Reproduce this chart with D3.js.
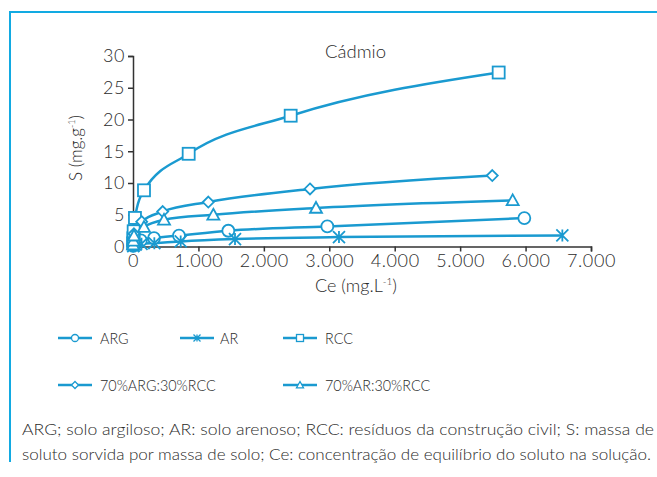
<!DOCTYPE html>
<html>
<head>
<meta charset="utf-8">
<script src="https://cdn.jsdelivr.net/npm/d3@7/dist/d3.min.js"></script>
<style>
  html, body { margin: 0; padding: 0; background: #fff; }
  svg { display: block; }
  text { font-family: Lato, "Open Sans", sans-serif; font-weight: 300; fill: #2b2b2b; }
</style>
</head>
<body>
<svg id="chart" width="657" height="477"></svg>
<script>
// Sorption isotherms for cadmium (S vs Ce) for five substrates
const seriesNames = ["ARG", "AR", "RCC", "70%ARG:30%RCC", "70%AR:30%RCC"];
const seriesSymbols = ["circle", "asterisk", "square", "diamond", "triangle"];

const ceARG = [3, 10, 40, 120, 321, 703, 1457, 2970, 5981];
const sARG  = [0.1, 0.3, 0.6, 0.95, 1.33, 1.72, 2.48, 3.16, 4.48];

const ceAR = [3, 10, 40, 130, 326, 729, 1559, 3148, 6562];
const sAR  = [0.05, 0.15, 0.3, 0.42, 0.53, 0.8, 1.17, 1.48, 1.74];

const ceRCC = [2, 5, 10, 30, 168, 851, 2410, 5589];
const sRCC  = [0.5, 1.3, 2.4, 4.5, 8.85, 14.6, 20.6, 27.4];

const ceMixARG = [2, 6, 15, 133, 454, 1151, 2705, 5491];
const sMixARG  = [0.4, 1.1, 2.0, 3.9, 5.5, 7.0, 9.07, 11.17];

const ceMixAR = [2, 6, 15, 168, 474, 1228, 2797, 5803];
const sMixAR  = [0.3, 0.9, 1.7, 3.06, 4.2, 5.0, 6.07, 7.27];

const xTicks = [0, 1000, 2000, 3000, 4000, 5000, 6000, 7000];
const yTicks = [0, 5, 10, 15, 20, 25, 30];

const footnote = [
  "ARG; solo argiloso; AR: solo arenoso; RCC: resíduos da construção civil; S: massa de",
  "soluto sorvida por massa de solo; Ce: concentração de equilíbrio do soluto na solução."
];

const series = [
  { x: ceARG, y: sARG },
  { x: ceAR, y: sAR },
  { x: ceRCC, y: sRCC },
  { x: ceMixARG, y: sMixARG },
  { x: ceMixAR, y: sMixAR }
].map((s, i) => ({
  name: seriesNames[i],
  symbol: seriesSymbols[i],
  points: s.x.map((v, j) => ({ ce: v, s: s.y[j] }))
}));

const blue = "#1a9ad0";
const frameBlue = "#12aae2";
const axisColor = "#333";

const svg = d3.select("#chart");

// panel frame: top and left rules
svg.append("line").attr("x1", 10).attr("x2", 657).attr("y1", 12).attr("y2", 12)
  .attr("stroke", frameBlue).attr("stroke-width", 2);
svg.append("line").attr("x1", 10).attr("x2", 10).attr("y1", 11).attr("y2", 462)
  .attr("stroke", frameBlue).attr("stroke-width", 2);

const x = d3.scaleLinear().domain([0, 7000]).range([133, 591]);
const y = d3.scaleLinear().domain([0, 30]).range([246.5, 56]);

const fmt = d3.formatLocale({ decimal: ",", thousands: ".", grouping: [3], currency: ["R$", ""] }).format(",d");

// axes
const gx = svg.append("g").attr("transform", `translate(0,${y(0)})`)
  .call(d3.axisBottom(x).tickValues(xTicks).tickFormat(fmt).tickSizeOuter(0).tickSize(5).tickPadding(3));
const gy = svg.append("g").attr("transform", `translate(${x(0)},0)`)
  .call(d3.axisLeft(y).tickValues(yTicks).tickSizeOuter(0).tickSize(5).tickPadding(3));
[gx, gy].forEach(g => {
  g.select(".domain").attr("stroke", axisColor).attr("stroke-width", 1.5);
  g.selectAll(".tick line").attr("stroke", axisColor).attr("stroke-width", 1.5);
  g.selectAll(".tick text").attr("font-size", 18).style("font-family", "Lato, sans-serif")
    .style("font-weight", 300).style("letter-spacing", "0.6px").attr("fill", "#2b2b2b");
});

// symbol drawing
function drawSymbol(g, type, cx, cy, sz, sw) {
  const h = sz / 2;
  const common = el => el.attr("fill", "#fff").attr("stroke", blue).attr("stroke-width", sw);
  if (type === "circle") {
    common(g.append("circle").attr("cx", cx).attr("cy", cy).attr("r", h));
  } else if (type === "square") {
    common(g.append("rect").attr("x", cx - h).attr("y", cy - h).attr("width", sz).attr("height", sz));
  } else if (type === "diamond") {
    common(g.append("path").attr("d", `M${cx},${cy - h}L${cx + h},${cy}L${cx},${cy + h}L${cx - h},${cy}Z`));
  } else if (type === "triangle") {
    common(g.append("path").attr("d", `M${cx},${cy - h}L${cx + h},${cy + h * 0.8}L${cx - h},${cy + h * 0.8}Z`));
  } else if (type === "asterisk") {
    g.append("path")
      .attr("d", `M${cx - h},${cy - h}L${cx + h},${cy + h}M${cx - h},${cy + h}L${cx + h},${cy - h}M${cx},${cy - h}L${cx},${cy + h}`)
      .attr("fill", "none").attr("stroke", blue).attr("stroke-width", sw);
  }
}

const line = d3.line().x(d => x(d.ce)).y(d => y(d.s)).curve(d3.curveMonotoneX);

const plot = svg.append("g");
series.forEach(s => {
  plot.append("path")
    .datum([{ ce: 0, s: 0 }].concat(s.points))
    .attr("d", line)
    .attr("fill", "none").attr("stroke", blue).attr("stroke-width", 2.5);
});
series.forEach(s => {
  const g = plot.append("g");
  s.points.forEach(p => drawSymbol(g, s.symbol, x(p.ce), y(p.s), s.symbol === "diamond" ? 11 : 12, 1.8));
});

// title and axis titles
svg.append("text").attr("x", 325).attr("y", 58).attr("font-size", 18.5).text("Cádmio");

const yl = svg.append("text").attr("transform", "translate(82,148) rotate(-90)")
  .attr("text-anchor", "middle").attr("font-size", 17);
yl.append("tspan").text("S (mg.g");
yl.append("tspan").attr("font-size", 9).attr("dy", -7).text("-1");
yl.append("tspan").attr("dy", 7).text(")");

const xl = svg.append("text").attr("x", 356).attr("y", 292)
  .attr("text-anchor", "middle").attr("font-size", 18);
xl.append("tspan").text("Ce (mg.L");
xl.append("tspan").attr("font-size", 10).attr("dy", -7).text("-1");
xl.append("tspan").attr("dy", 7).text(")");

// legend
const legendPos = [[58, 338], [180, 338], [283, 338], [58, 385], [283, 385]];
series.forEach((s, i) => {
  const [lx, ly] = legendPos[i];
  const g = svg.append("g");
  g.append("line").attr("x1", lx).attr("x2", lx + 34).attr("y1", ly).attr("y2", ly)
    .attr("stroke", blue).attr("stroke-width", 2.5);
  drawSymbol(g, s.symbol, lx + 17, ly, 7, 1.3);
  const t = g.append("text").attr("x", lx + (i === 1 ? 40 : 42)).attr("y", ly + 6).attr("font-size", 16.5).text(s.name);
  const w = t.node().getComputedTextLength();
  t.attr("textLength", w * 0.87).attr("lengthAdjust", "spacingAndGlyphs");
});

// footnote
footnote.forEach((t, i) => {
  svg.append("text").attr("x", 22).attr("y", 435 + i * 25).attr("font-size", 15.5)
    .attr("textLength", i === 0 ? 632 : 629).attr("lengthAdjust", "spacingAndGlyphs").text(t);
});
</script>
</body>
</html>
